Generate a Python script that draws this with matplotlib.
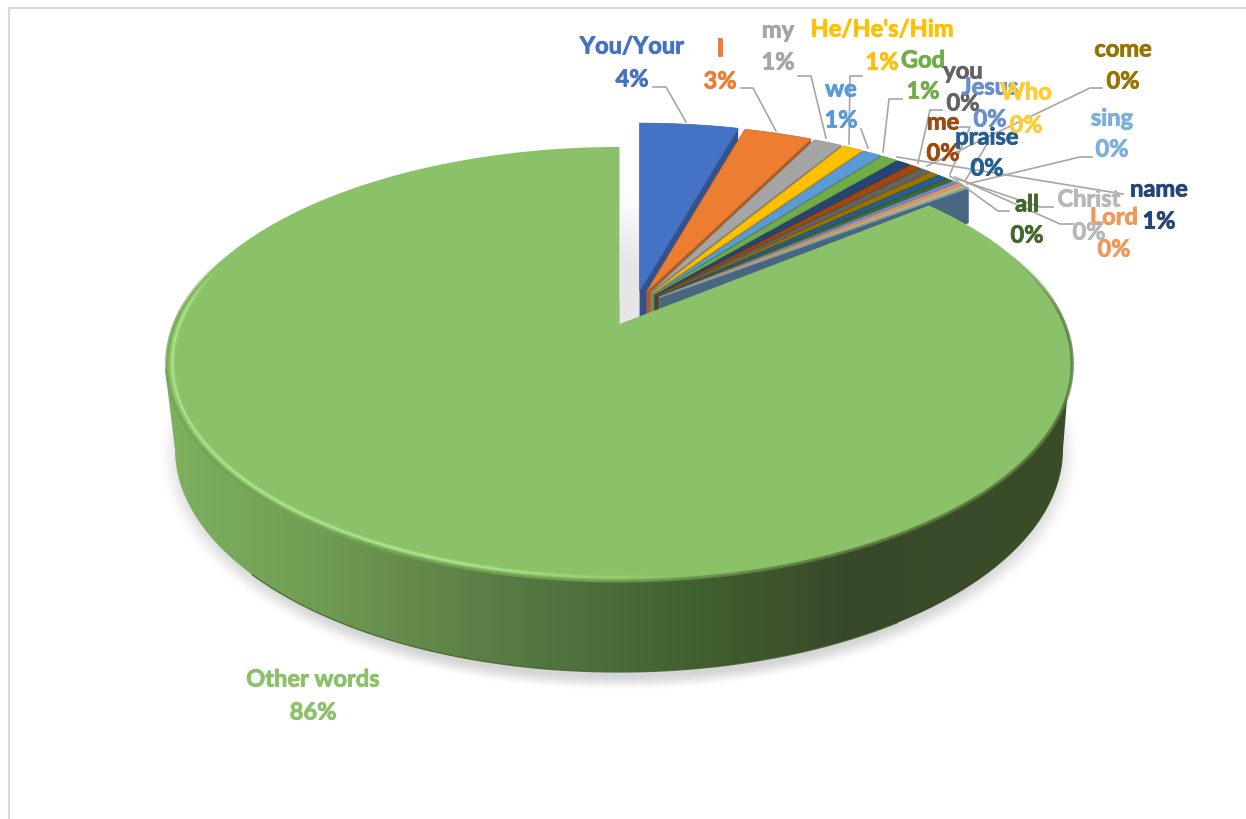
import numpy as np
import matplotlib
matplotlib.use("Agg")
import matplotlib.pyplot as plt
import matplotlib.patheffects as pe
from matplotlib.collections import LineCollection
from matplotlib.colors import LinearSegmentedColormap, to_rgb
from matplotlib.patches import Polygon

plt.rcParams['font.family'] = ['Lato', 'DejaVu Sans']

# share of words, in the order the slices run clockwise from 12 o'clock
words = ["You/Your", "I", "my", "He/He's/Him", "we", "God", "name", "me", "you",
         "come", "praise", "all", "Jesus", "Lord", "Christ", "Who", "sing", "Other words"]
shares = [4.2, 2.9, 1.2, 0.9, 0.8, 0.7, 0.6, 0.48, 0.45,
          0.4, 0.4, 0.3, 0.25, 0.2, 0.15, 0.1, 0.1, 85.87]
colors = ["#4472C4", "#ED7D31", "#A5A5A5", "#FFC000", "#5B9BD5", "#70AD47", "#264478",
          "#9E480E", "#636363", "#997300", "#255E91", "#43682B", "#698ED0", "#F1975A",
          "#B7B7B7", "#FFCD33", "#7CAFDD", "#8BC168"]

# label centres: word x, word y, percent y
label_xy = {
    "You/Your": (632, 47, 80), "I": (720, 49, 82), "my": (778, 31, 63),
    "He/He's/Him": (882, 30, 63), "we": (841, 90, 121), "God": (923, 61, 92),
    "name": (1159, 190, 222), "me": (943, 123, 154), "you": (963, 72, 104),
    "come": (1123, 50, 82), "praise": (987, 138, 169), "all": (1027, 205, 236),
    "Jesus": (990, 88, 120), "Lord": (1114, 218, 250), "Christ": (1089, 200, 233),
    "Who": (1026, 93, 126), "sing": (1112, 119, 150), "Other words": (313, 680, 713),
}

# leader lines from label to slice
leaders = [
    [(653, 88), (666, 88), (686, 123)],
    [(741, 89), (753, 89), (776, 132)],
    [(798, 77), (811, 77), (826, 139)],
    [(862, 77), (850, 77), (849, 145)],
    [(861, 130), (868, 149)],
    [(902, 100), (889, 100), (883, 153)],
    [(942, 111), (930, 111), (918, 164)],
    [(960, 128), (970, 128), (950, 175)],
    [(987, 145), (965, 182)],
    [(1102, 89), (1090, 89), (927, 167)],
    [(1092, 158), (1080, 158), (967, 185)],
    [(1009, 212), (998, 212), (950, 177)],
    [(1053, 208), (1040, 208), (957, 180)],
    [(1073, 225), (1060, 225), (955, 178)],
    [(1123, 195), (897, 158)],
]

# perspective of the top face
X0, Y0 = 619.5, 325.0
A, B, K = 445.0, 209.6, 0.184
# ellipse of the pie's underside
BX, BY, BA, BB = 619.0, 450.0, 444.0, 223.0


def project(theta, r=1.0):
    u = r * np.sin(theta)
    v = r * np.cos(theta)
    w = 1 + K * v
    return X0 + A * u / w, Y0 - B * v / w


def wedge_points(a, b, r=1.0):
    t = np.linspace(a, b, max(int((b - a) * 240), 2))
    x, y = project(t, r)
    return np.vstack([[X0, Y0], np.column_stack([x, y])])


def shade(color, f):
    return tuple(c * f for c in to_rgb(color))


def segments(x, y):
    return np.stack([np.column_stack([x[:-1], y[:-1]]), np.column_stack([x[1:], y[1:]])], axis=1)


fig = plt.figure(figsize=(12.46, 8.2), dpi=100)
ax = fig.add_axes([0, 0, 1, 1])

# chart frame
ax.plot([9, 9, 1246], [820, 9, 9], color="#d9d9d9", lw=1.6, zorder=1)

# soft shadow under the pie
gx, gy = np.meshgrid(np.arange(100, 1140), np.arange(300, 720))
s = np.sqrt(((gx - 619) / 462.0) ** 2 + ((gy - 455) / 237.0) ** 2)
fade = np.clip((1.0 - s) / 0.07, 0, 1)
shadow = np.zeros(s.shape + (4,))
shadow[..., :3] = 0.45
shadow[..., 3] = 0.3 * fade * fade * (3 - 2 * fade)
ax.imshow(shadow, extent=(100, 1140, 720, 300), aspect="auto", zorder=1.5)

# grey shading in the gap beside the exploded slices
gap = np.linspace(0, 1, 200).reshape(-1, 1)
gap_cmap = LinearSegmentedColormap.from_list("gap", ["#ffffff", "#e6e6e6", "#e6e6e6"])
ax.imshow(gap, extent=(620, 650, 330, 195), aspect="auto", cmap=gap_cmap, zorder=2)

# exploded slices, each drawn over the side wall of the one before
ends = np.cumsum(shares) / np.sum(shares) * 2 * np.pi
starts = np.concatenate([[0], ends[:-1]])
z = 3.0
for i in range(len(words) - 1):
    a, b = starts[i], ends[i]
    mid = (a + b) / 2
    dx = 16 + 31 * np.sin(mid)
    dy = -(6 + 18 * np.cos(mid))
    pts = wedge_points(a, b) + [dx, dy]
    # the tips sit a little higher than a plain shift would put them
    pts[0] += [0, -9]
    apex, outer = pts[0], pts[-1]
    depth_in, depth_out = 52, 35
    wall = [apex, outer, outer + [0, depth_out], apex + [0, depth_in]]
    f = 0.58 if i == len(words) - 2 else 0.72
    ax.add_patch(Polygon(wall, closed=True, fc=shade(colors[i], f), ec="none", zorder=z))
    z += 0.01
    ax.add_patch(Polygon(pts, closed=True, fc=colors[i], ec=shade(colors[i], 0.85), lw=0.5, zorder=z))
    z += 0.01

# outer wall of the big slice with its left-to-right shading
t = np.linspace(np.pi / 2, 3 * np.pi / 2, 300)
wall_x = BX + BA * np.sin(t)
wall_y = BY - BB * np.cos(t)
outline = np.vstack([[[1070, 363]], np.column_stack([wall_x, wall_y]), [[165, 370]]])
wall_patch = Polygon(outline, closed=True, fc="none", ec="none", zorder=4)
ax.add_patch(wall_patch)
stops_x = [165, 330, 420, 550, 700, 850, 1070]
stops_c = ["#7eb15e", "#6f9a52", "#63894a", "#517540", "#41602f", "#38492a", "#3a4d27"]
wall_cmap = LinearSegmentedColormap.from_list(
    "wall", [((x - 165) / 905.0, c) for x, c in zip(stops_x, stops_c)])
wall_im = ax.imshow(np.linspace(0, 1, 905).reshape(1, -1), extent=(165, 1070, 700, 300),
                    aspect="auto", cmap=wall_cmap, zorder=4)
wall_im.set_clip_path(wall_patch)
front = (wall_x > 250) & (wall_x < 900)
ax.plot(wall_x[front], wall_y[front], color="#3f5f28", lw=1.0, alpha=0.8, zorder=4.1)

# top face of the big slice
ax.add_patch(Polygon(wedge_points(starts[-1], ends[-1]), closed=True, fc=colors[-1], ec="none", zorder=5))

# rim on the near side: soft darker edge and a bright bevel line just inside it
rim_t = np.linspace(np.pi / 2 - 0.35, 2 * np.pi - 1.2, 500)
ex, ey = project(rim_t, 1.0)
hx, hy = project(rim_t, 0.988)
mx = (ex[:-1] + ex[1:]) / 2
mv = np.cos((rim_t[:-1] + rim_t[1:]) / 2)
blend = np.clip((mx - 600) / 250, 0, 1)[:, None]
edge_rgba = np.zeros((len(mx), 4))
edge_rgba[:, :3] = (1 - blend) * np.array(to_rgb("#74a356")) + blend * np.array(to_rgb("#56783d"))
edge_rgba[:, 3] = np.clip((0.35 - mv) / 0.3, 0, 1) * 0.85
glow = np.clip((680 - mx) / 220, 0, 1) * np.clip((0.3 - mv) / 0.25, 0, 1)
soft_rgba = np.zeros((len(mx), 4))
soft_rgba[:, :3] = to_rgb("#a6df86")
soft_rgba[:, 3] = glow * 0.3
fine_rgba = np.zeros((len(mx), 4))
fine_rgba[:, :3] = to_rgb("#b4ee94")
fine_rgba[:, 3] = glow * 0.75
ax.add_collection(LineCollection(segments(ex, ey), colors=edge_rgba, linewidths=2.4, zorder=5.1))
ax.add_collection(LineCollection(segments(hx, hy), colors=soft_rgba, linewidths=4.0, zorder=5.2))
ax.add_collection(LineCollection(segments(hx, hy), colors=fine_rgba, linewidths=1.6, zorder=5.3))

# leaders and data labels
for line in leaders:
    px, py = zip(*line)
    ax.plot(px, py, color="#a6a6a6", lw=1.2, zorder=6, solid_joinstyle="miter")

total = np.sum(shares)
for word, share, color in zip(words, shares, colors):
    lx, wy, py = label_xy[word]
    pct = f"{round(share / total * 100)}%"
    for txt, ty in ((word, wy), (pct, py)):
        t_obj = ax.text(lx, ty, txt, color=color, fontsize=17, fontweight="bold",
                        ha="center", va="center", zorder=7)
        t_obj.set_path_effects([pe.withStroke(linewidth=0.6, foreground=color)])

ax.set_xlim(0, 1246)
ax.set_ylim(820, 0)
ax.axis("off")
fig.savefig("out.png", dpi=100)
